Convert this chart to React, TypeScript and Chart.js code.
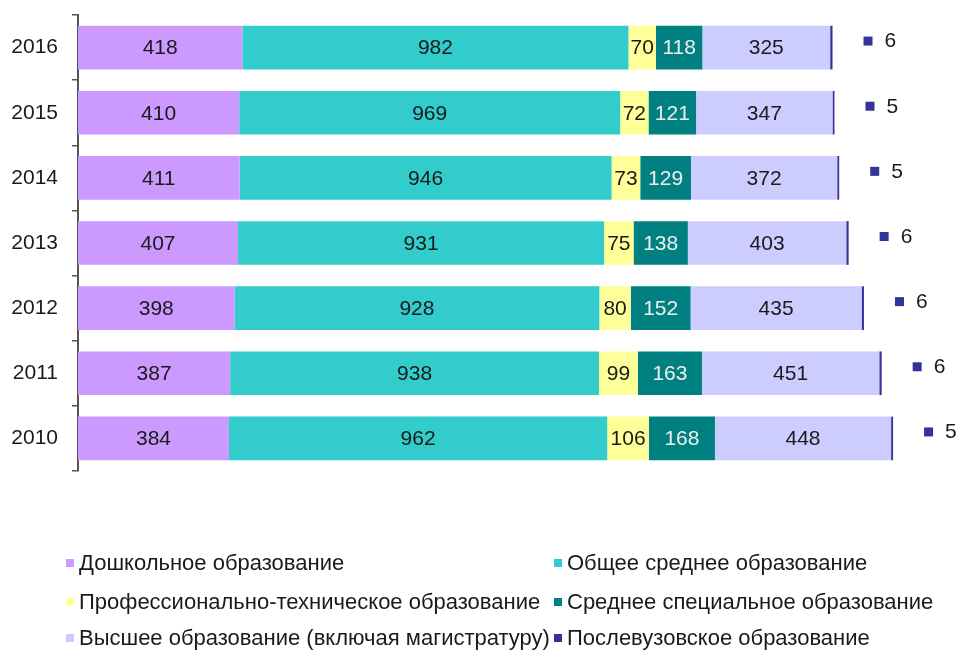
import React, { useEffect, useRef } from 'react';
import { Chart, registerables } from 'chart.js';

Chart.register(...registerables);

const years = ['2016', '2015', '2014', '2013', '2012', '2011', '2010'];
const preschool = [418, 410, 411, 407, 398, 387, 384];
const generalSecondary = [982, 969, 946, 931, 928, 938, 962];
const vocational = [70, 72, 73, 75, 80, 99, 106];
const specialized = [118, 121, 129, 138, 152, 163, 168];
const higher = [325, 347, 372, 403, 435, 451, 448];
const postgraduate = [6, 5, 5, 6, 6, 6, 5];

const seriesNames = [
  'Дошкольное образование',
  'Общее среднее образование',
  'Профессионально-техническое образование',
  'Среднее специальное образование',
  'Высшее образование (включая магистратуру)',
  'Послевузовское образование',
];
const seriesData = [preschool, generalSecondary, vocational, specialized, higher, postgraduate];
const colors = ['#cc99ff', '#33cccc', '#ffff99', '#008080', '#ccccff', '#333399'];
const labelColors = ['#1a1a1a', '#1a1a1a', '#1a1a1a', '#eeeeee', '#1a1a1a', '#1a1a1a'];

const FONT = '"Liberation Sans", Arial, sans-serif';

const labelPlugin = {
  id: 'segmentLabels',
  afterDatasetsDraw(chart: any) {
    const ctx = chart.ctx;
    ctx.save();
    ctx.font = `21px ${FONT}`;
    ctx.textBaseline = 'middle';
    chart.data.datasets.forEach((ds: any, i: number) => {
      const meta = chart.getDatasetMeta(i);
      meta.data.forEach((el: any, j: number) => {
        const v = ds.data[j];
        if (i < seriesData.length - 1) {
          ctx.fillStyle = labelColors[i];
          ctx.textAlign = 'center';
          ctx.fillText(String(v), (el.x + el.base) / 2, el.y + 1);
        } else {
          const sx = el.x + 31;
          const cy = el.y - 7;
          ctx.fillStyle = colors[i];
          ctx.fillRect(sx, cy - 4, 9, 9);
          ctx.fillStyle = '#1a1a1a';
          ctx.textAlign = 'left';
          ctx.fillText(String(v), sx + 21, cy + 1);
        }
      });
    });
    ctx.restore();
  },
};

export default function App() {
  const ref = useRef<HTMLCanvasElement | null>(null);
  useEffect(() => {
    if (!ref.current) return;
    const chart = new Chart(ref.current, {
      type: 'bar',
      data: {
        labels: years,
        datasets: seriesData.map((d, i) => ({
          label: seriesNames[i],
          data: d,
          backgroundColor: colors[i],
          borderWidth: 0,
          barPercentage: 0.67,
          categoryPercentage: 1,
        })),
      },
      options: {
        indexAxis: 'y',
        animation: false,
        responsive: false,
        maintainAspectRatio: false,
        layout: { padding: { top: 15, bottom: 180, left: 0, right: 15 } },
        plugins: { legend: { display: false }, tooltip: { enabled: false } },
        scales: {
          x: { stacked: true, display: false, min: 0, max: 2200 },
          y: {
            stacked: true,
            grid: {
              offset: true,
              drawOnChartArea: false,
              drawTicks: true,
              tickLength: 6,
              color: '#555555',
              lineWidth: 1.5,
            },
            border: { display: true, color: '#555555', width: 2 },
            ticks: { font: { family: FONT, size: 21 }, color: '#1a1a1a', padding: 14 },
            afterFit: (s: any) => {
              s.width = 78;
              s.paddingTop = 0;
              s.paddingBottom = 0;
            },
          },
        },
      } as any,
      plugins: [labelPlugin],
    });
    return () => chart.destroy();
  }, []);

  const legendItems = [
    { i: 0, x: 66, y: 563 },
    { i: 1, x: 554, y: 563 },
    { i: 2, x: 66, y: 602 },
    { i: 3, x: 554, y: 602 },
    { i: 4, x: 66, y: 638 },
    { i: 5, x: 554, y: 638 },
  ];

  return (
    <div style={{ position: 'fixed', left: 0, top: 0, width: 958, height: 651, background: '#fff' }}>
      <canvas ref={ref} width={958} height={651} style={{ position: 'absolute', left: 0, top: 0 }} />
      {legendItems.map((it) => (
        <div
          key={it.i}
          style={{
            position: 'absolute',
            left: it.x,
            top: it.y - 13,
            height: 26,
            display: 'flex',
            alignItems: 'center',
            fontFamily: FONT,
            fontSize: 22,
            color: '#1a1a1a',
            whiteSpace: 'nowrap',
          }}
        >
          <span style={{ display: 'inline-block', width: 8, height: 8, background: colors[it.i], marginRight: 5 }} />
          {seriesNames[it.i]}
        </div>
      ))}
    </div>
  );
}
